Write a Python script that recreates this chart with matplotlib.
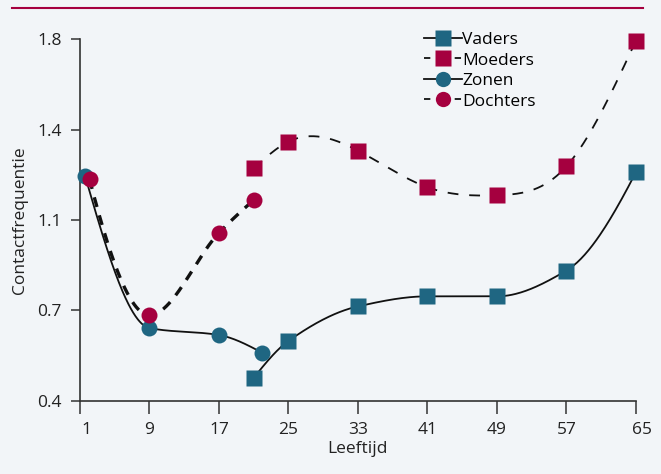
import numpy as np
import matplotlib
matplotlib.use("Agg")
import matplotlib.pyplot as plt
import matplotlib.transforms as mtransforms
from matplotlib.lines import Line2D

# Data
vaders_age = [21, 25, 33, 41, 49, 57, 65]
vaders_val = [0.488, 0.631, 0.765, 0.804, 0.804, 0.904, 1.285]
moeders_age = [21, 25, 33, 41, 49, 57, 65]
moeders_val = [1.30, 1.404, 1.369, 1.227, 1.196, 1.308, 1.795]
zonen_age = [1.6, 9, 17, 22]
zonen_val = [1.269, 0.681, 0.654, 0.585]
dochters_age = [2.1, 9, 17, 21]
dochters_val = [1.258, 0.731, 1.05, 1.177]

x_ticks = [1, 9, 17, 25, 33, 41, 49, 57, 65]
y_ticks = [0.4, 0.75, 1.1, 1.45, 1.8]
y_tick_labels = ["0.4", "0.7", "1.1", "1.4", "1.8"]

teal = "#1f6682"
crimson = "#a5003f"
bg = "#f2f5f8"


def natural_spline(x, y, xs):
	x = np.asarray(x, float); y = np.asarray(y, float)
	n = len(x); h = np.diff(x)
	A = np.zeros((n, n)); r = np.zeros(n)
	A[0, 0] = 1; A[-1, -1] = 1
	for i in range(1, n - 1):
		A[i, i - 1] = h[i - 1]
		A[i, i] = 2 * (h[i - 1] + h[i])
		A[i, i + 1] = h[i]
		r[i] = 3 * ((y[i + 1] - y[i]) / h[i] - (y[i] - y[i - 1]) / h[i - 1])
	c = np.linalg.solve(A, r)
	b = (y[1:] - y[:-1]) / h - h * (2 * c[:-1] + c[1:]) / 3
	d = (c[1:] - c[:-1]) / (3 * h)
	k = np.clip(np.searchsorted(x, xs) - 1, 0, n - 2)
	t = xs - x[k]
	return y[k] + b[k] * t + c[k] * t ** 2 + d[k] * t ** 3


def pchip(x, y, xs):
	x = np.asarray(x, float); y = np.asarray(y, float)
	n = len(x); h = np.diff(x); dl = np.diff(y) / h
	m = np.zeros(n)
	for i in range(1, n - 1):
		if dl[i - 1] * dl[i] > 0:
			w1 = 2 * h[i] + h[i - 1]; w2 = h[i] + 2 * h[i - 1]
			m[i] = (w1 + w2) / (w1 / dl[i - 1] + w2 / dl[i])
	def end(h0, h1, d0, d1):
		s = ((2 * h0 + h1) * d0 - h0 * d1) / (h0 + h1)
		if np.sign(s) != np.sign(d0):
			s = 0
		elif np.sign(d0) != np.sign(d1) and abs(s) > abs(3 * d0):
			s = 3 * d0
		return s
	m[0] = end(h[0], h[1], dl[0], dl[1])
	m[-1] = end(h[-1], h[-2], dl[-1], dl[-2])
	k = np.clip(np.searchsorted(x, xs) - 1, 0, n - 2)
	t = (xs - x[k]) / h[k]
	h00 = 2 * t ** 3 - 3 * t ** 2 + 1; h10 = t ** 3 - 2 * t ** 2 + t
	h01 = -2 * t ** 3 + 3 * t ** 2; h11 = t ** 3 - t ** 2
	return h00 * y[k] + h10 * h[k] * m[k] + h01 * y[k + 1] + h11 * h[k] * m[k + 1]


plt.rcParams['font.family'] = ['Open Sans', 'DejaVu Sans']
fig = plt.figure(figsize=(6.61, 4.74), dpi=100, facecolor=bg)
ax = fig.add_axes([0.121, 0.155, 0.841, 0.7617], facecolor=bg)

# Curves
xs = np.linspace(vaders_age[0], vaders_age[-1], 300)
ax.plot(xs, pchip(vaders_age, vaders_val, xs), color="#111111", lw=1.3, zorder=2, clip_on=False)
xs = np.linspace(moeders_age[0], moeders_age[-1], 300)
ax.plot(xs, natural_spline(moeders_age, moeders_val, xs), color="#111111", lw=1.3, dashes=(6, 6), zorder=2, clip_on=False)
xs = np.linspace(zonen_age[0], zonen_age[-1], 300)
ax.plot(xs, pchip(zonen_age, zonen_val, xs), color="#111111", lw=1.3, zorder=2, clip_on=False)
xs = np.linspace(dochters_age[0], dochters_age[-1], 300)
ax.plot(xs, pchip(dochters_age, dochters_val, xs), color="#111111", lw=2.4, dashes=(3, 2.6), zorder=2, clip_on=False)

# Markers
ms = 11.5
ax.plot(vaders_age, vaders_val, "s", color=teal, ms=ms, mec="none", zorder=3, clip_on=False)
ax.plot(moeders_age, moeders_val, "s", color=crimson, ms=ms, mec="none", zorder=3, clip_on=False)
ax.plot(zonen_age, zonen_val, "o", color=teal, ms=ms, mec="none", zorder=4, clip_on=False)
ax.plot(dochters_age, dochters_val, "o", color=crimson, ms=ms, mec="none", zorder=5, clip_on=False)

ax.set_xlim(1, 65)
ax.set_ylim(0.4, 1.8)
ax.set_xticks(x_ticks)
ax.set_yticks(y_ticks)
ax.set_yticklabels(y_tick_labels)
for s in ["top", "right"]:
	ax.spines[s].set_visible(False)
for s in ["left", "bottom"]:
	ax.spines[s].set_color("#333333")
	ax.spines[s].set_linewidth(1.2)
ax.tick_params(axis="x", length=9.5, width=1.1, color="#333333", labelsize=12.5, labelcolor="#222222", pad=6)
ax.tick_params(axis="y", length=6.5, width=1.1, color="#333333", labelsize=12.5, labelcolor="#222222", pad=6.5)
ax.set_xlabel("Leeftijd", fontsize=12.5, color="#222222", labelpad=2)
ax.set_ylabel("Contactfrequentie", fontsize=12.5, color="#222222", labelpad=7)

# first and last x labels sit a little to the right in the original
shift = mtransforms.ScaledTranslation(6 / 100, 0, fig.dpi_scale_trans)
xlabels = ax.get_xticklabels()
for lab in (xlabels[0], xlabels[-1]):
	lab.set_transform(lab.get_transform() + shift)

handles = [
	Line2D([], [], color="#111111", lw=1.3, marker="s", ms=11, mfc=teal, mec="none"),
	Line2D([], [], color="#111111", lw=1.3, ls=(0, (3.5, 5)), marker="s", ms=11, mfc=crimson, mec="none"),
	Line2D([], [], color="#111111", lw=1.3, marker="o", ms=11, mfc=teal, mec="none"),
	Line2D([], [], color="#111111", lw=1.3, ls=(0, (3.5, 5)), marker="o", ms=11, mfc=crimson, mec="none"),
]
ax.legend(handles, ["Vaders", "Moeders", "Zonen", "Dochters"], loc="upper left",
	bbox_to_anchor=(0.603, 1.045), frameon=False, fontsize=12.5, handlelength=2.2,
	handletextpad=0.0, labelspacing=0.25, borderpad=0)

# Top rule
fig.add_artist(Line2D([12 / 661, 643 / 661], [1 - 8 / 474, 1 - 8 / 474], color=crimson, lw=1.5))

fig.savefig("out.png", dpi=100, facecolor=bg)
